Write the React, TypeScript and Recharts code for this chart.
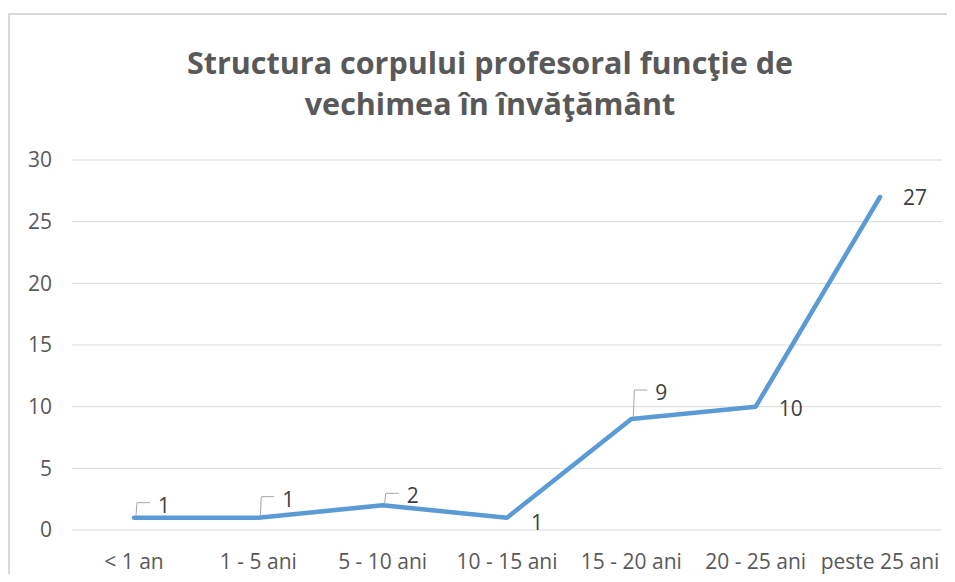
import React from 'react';
import { LineChart, Line, XAxis, YAxis, CartesianGrid, LabelList } from 'recharts';

const categories = ['< 1 an', '1 - 5 ani', '5 - 10 ani', '10 - 15 ani', '15 - 20 ani', '20 - 25 ani', 'peste 25 ani'];
const values = [1, 1, 2, 1, 9, 10, 27];
const yTicks = [0, 5, 10, 15, 20, 25, 30];
const titleLines = ['Structura corpului profesoral funcţie de', 'vechimea în învăţământ'];

const data = categories.map((c, i) => ({ name: c, value: values[i] }));

// label placement per point: leader callout (with height), below-right, or right
const leaderHeights: (number | null)[] = [15, 21, 12, null, 29, null, null];
const plainOffsets: ([number, number] | null)[] = [null, null, null, [30, 4], null, [35, 1], [35, 0]];

const FONT = '"Open Sans", sans-serif';

const DataLabel = (props: any) => {
  const { x, y, value, index } = props;
  const lh = leaderHeights[index];
  if (lh != null) {
    const ty = y - lh;
    return (
      <g>
        <path d={`M${x + 2},${y - 2} L${x + 3},${ty} L${x + 16},${ty}`} fill="none" stroke="#A6A6A6" strokeWidth={1} />
        <text x={x + 30} y={ty + 2} textAnchor="middle" dominantBaseline="central" fontFamily={FONT} fontSize={21} fill="#404040">
          {value}
        </text>
      </g>
    );
  }
  const off = plainOffsets[index] || [30, 0];
  return (
    <text x={x + off[0]} y={y + off[1]} textAnchor="middle" dominantBaseline="central" fontFamily={FONT} fontSize={21} fill="#404040">
      {value}
    </text>
  );
};

export default function App() {
  return (
    <div style={{ position: 'relative', width: 955, height: 582, margin: -8, background: '#fff', overflow: 'hidden' }}>
      <div style={{ position: 'absolute', left: 5, top: 13, width: 960, height: 2, background: '#D9D9D9' }} />
      <div style={{ position: 'absolute', left: 8, top: 13, width: 2, height: 580, background: '#D9D9D9' }} />
      {titleLines.map((t, i) => (
        <div
          key={i}
          style={{
            position: 'absolute',
            left: 0,
            width: 980,
            top: 42 + i * 41,
            height: 40,
            lineHeight: '40px',
            textAlign: 'center',
            fontFamily: FONT,
            fontWeight: 700,
            fontSize: 30.5,
            color: '#595959',
            whiteSpace: 'nowrap',
          }}
        >
          {t}
        </div>
      ))}
      <div style={{ position: 'absolute', left: 0, top: 0 }}>
        <LineChart width={955} height={582} data={data} margin={{ top: 160, right: 13, bottom: 22, left: 0 }}>
          <CartesianGrid vertical={false} stroke="#D9D9D9" strokeWidth={1} />
          <XAxis
            dataKey="name"
            height={30}
            axisLine={false}
            tickLine={false}
            padding={{ left: 62, right: 62 }}
            tickSize={0}
            tickMargin={24}
            interval={0}
            tick={{ fontFamily: FONT, fontSize: 21, fill: '#595959' }}
          />
          <YAxis
            width={72}
            domain={[0, 30]}
            ticks={yTicks}
            axisLine={false}
            tickLine={false}
            tickSize={0}
            tickMargin={20}
            tick={{ fontFamily: FONT, fontSize: 21, fill: '#595959' }}
          />
          <Line
            type="linear"
            dataKey="value"
            stroke="#5B9BD5"
            strokeWidth={4.5}
            dot={false}
            isAnimationActive={false}
            strokeLinejoin="round"
            strokeLinecap="round"
          >
            <LabelList dataKey="value" content={<DataLabel />} />
          </Line>
        </LineChart>
      </div>
    </div>
  );
}
